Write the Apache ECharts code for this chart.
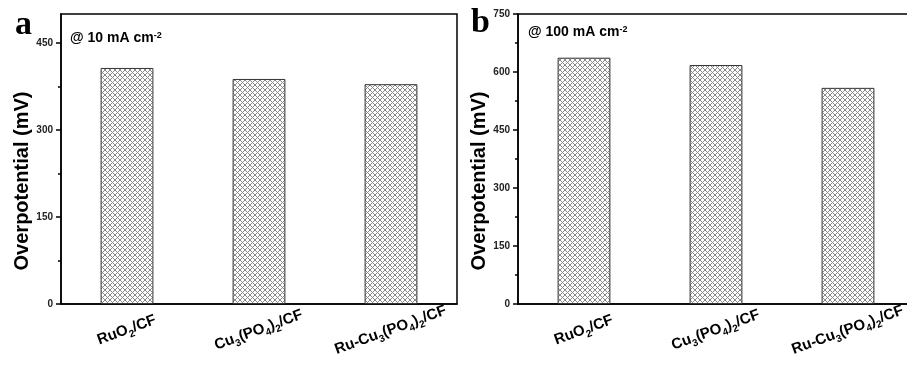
<!DOCTYPE html>
<html>
<head>
<meta charset="utf-8">
<script src="https://cdn.jsdelivr.net/npm/echarts@6/dist/echarts.min.js"></script>
<style>
  html, body { margin: 0; padding: 0; background: #fff; overflow: hidden; }
  /* panel b's frame runs past the right edge of the picture */
  #chart { width: 914px; height: 365px; }
</style>
</head>
<body>
<div id="chart"></div>
<script>
// catalyst names (digits become subscripts when drawn)
const categories = ['RuO2/CF', 'Cu3(PO4)2/CF', 'Ru-Cu3(PO4)2/CF'];
// overpotential in mV
const overpotential10 = [407, 388, 379];
const overpotential100 = [637, 618, 559];
const ticksA = [0, 150, 300, 450];
const minorTicksA = [75, 225, 375];
const ticksB = [0, 150, 300, 450, 600, 750];
const minorTicksB = [75, 225, 375, 525, 675];

const SANS = 'Liberation Sans, Arial, sans-serif';

// cross-hatch tile for the bars
function hatchTile() {
  const s = 5;
  const c = document.createElement('canvas');
  c.width = s; c.height = s;
  const ctx = c.getContext('2d');
  ctx.fillStyle = '#fff';
  ctx.fillRect(0, 0, s, s);
  ctx.fillStyle = '#8a8a8a';
  for (let x = 0; x < s; x++) {
    for (let y = 0; y < s; y++) {
      if (x === y || x + y === s - 1) ctx.fillRect(x, y, 1, 1);
    }
  }
  return c;
}
const hatch = { image: hatchTile(), repeat: 'repeat' };

// "Cu3(PO4)2/CF" -> rich text with subscript digits
function richName(name) {
  return name.replace(/(\D+)|(\d)/g, (m, txt, dig) => txt ? `{n|${txt}}` : `{s|${dig}}`);
}

const xRich = {
  n: { fontFamily: SANS, fontWeight: 'bold', fontSize: 15, color: '#000', verticalAlign: 'bottom', lineHeight: 19, padding: [0, 0, 3, 0] },
  s: { fontFamily: SANS, fontWeight: 'bold', fontSize: 10, color: '#000', verticalAlign: 'bottom', lineHeight: 12 }
};

const axisColor = '#000';

function xAxisFor(i) {
  return {
    gridIndex: i,
    type: 'category',
    data: categories,
    axisLine: { lineStyle: { color: axisColor, width: 1.5 } },
    axisTick: { show: false },
    axisLabel: {
      rotate: 20,
      interval: 0,
      margin: 27,
      align: 'center',
      verticalAlign: 'middle',
      formatter: (v) => richName(v),
      rich: xRich
    },
    splitLine: { show: false }
  };
}

function yMain(i, max, ticks) {
  return {
    gridIndex: i,
    type: 'value',
    position: 'left',
    min: 0,
    max: max,
    interval: 150,
    name: 'Overpotential (mV)',
    nameLocation: 'middle',
    nameGap: 27,
    nameTextStyle: {
      fontFamily: SANS, fontWeight: 'bold', fontSize: 20, color: '#000',
      padding: [0, 44, 0, 0]
    },
    axisLine: { show: true, lineStyle: { color: axisColor, width: 1.5 } },
    axisTick: { show: true, length: 5, customValues: ticks, lineStyle: { color: axisColor, width: 1.5 } },
    axisLabel: {
      customValues: ticks,
      margin: 8,
      fontFamily: SANS, fontWeight: 'bold', fontSize: 10, color: '#222'
    },
    splitLine: { show: false }
  };
}

function yMinor(i, max, minor) {
  return {
    gridIndex: i,
    type: 'value',
    position: 'left',
    min: 0,
    max: max,
    axisLine: { show: false },
    axisTick: { show: true, length: 3, customValues: minor, lineStyle: { color: axisColor, width: 1.5 } },
    axisLabel: { show: false },
    splitLine: { show: false }
  };
}

function barSeries(i, data) {
  return {
    type: 'bar',
    xAxisIndex: i,
    yAxisIndex: i * 2,
    data: data,
    barWidth: '40%',
    itemStyle: { color: hatch, borderColor: '#333', borderWidth: 1 },
    silent: true
  };
}

const chart = echarts.init(document.getElementById('chart'), null, { renderer: 'canvas' });

chart.setOption({
  backgroundColor: '#fff',
  animation: false,
  grid: [
    { left: 61, right: 457, top: 14, bottom: 61, show: true, borderColor: '#000', borderWidth: 1.5 },
    { left: 518, right: 0, top: 14, bottom: 61, show: true, borderColor: '#000', borderWidth: 1.5 }
  ],
  xAxis: [xAxisFor(0), xAxisFor(1)],
  yAxis: [
    yMain(0, 500, ticksA), yMinor(0, 500, minorTicksA),
    yMain(1, 750, ticksB), yMinor(1, 750, minorTicksB)
  ],
  series: [barSeries(0, overpotential10), barSeries(1, overpotential100)],
  graphic: [
    {
      type: 'text', left: 15, top: 8,
      style: { text: 'a', font: 'bold 34px "Liberation Serif", "Times New Roman", serif', fill: '#000' }
    },
    {
      type: 'text', left: 471, top: 6,
      style: { text: 'b', font: 'bold 34px "Liberation Serif", "Times New Roman", serif', fill: '#000' }
    },
    {
      type: 'text', left: 70, top: 31,
      style: {
        text: '{n|@ 10 mA cm}{p|-2}',
        rich: {
          n: { fontFamily: SANS, fontWeight: 'bold', fontSize: 14, fill: '#000', verticalAlign: 'top', lineHeight: 16 },
          p: { fontFamily: SANS, fontWeight: 'bold', fontSize: 9, fill: '#000', verticalAlign: 'top', lineHeight: 9 }
        }
      }
    },
    {
      type: 'text', left: 528, top: 25,
      style: {
        text: '{n|@ 100 mA cm}{p|-2}',
        rich: {
          n: { fontFamily: SANS, fontWeight: 'bold', fontSize: 14, fill: '#000', verticalAlign: 'top', lineHeight: 16 },
          p: { fontFamily: SANS, fontWeight: 'bold', fontSize: 9, fill: '#000', verticalAlign: 'top', lineHeight: 9 }
        }
      }
    }
  ]
});
</script>
</body>
</html>
